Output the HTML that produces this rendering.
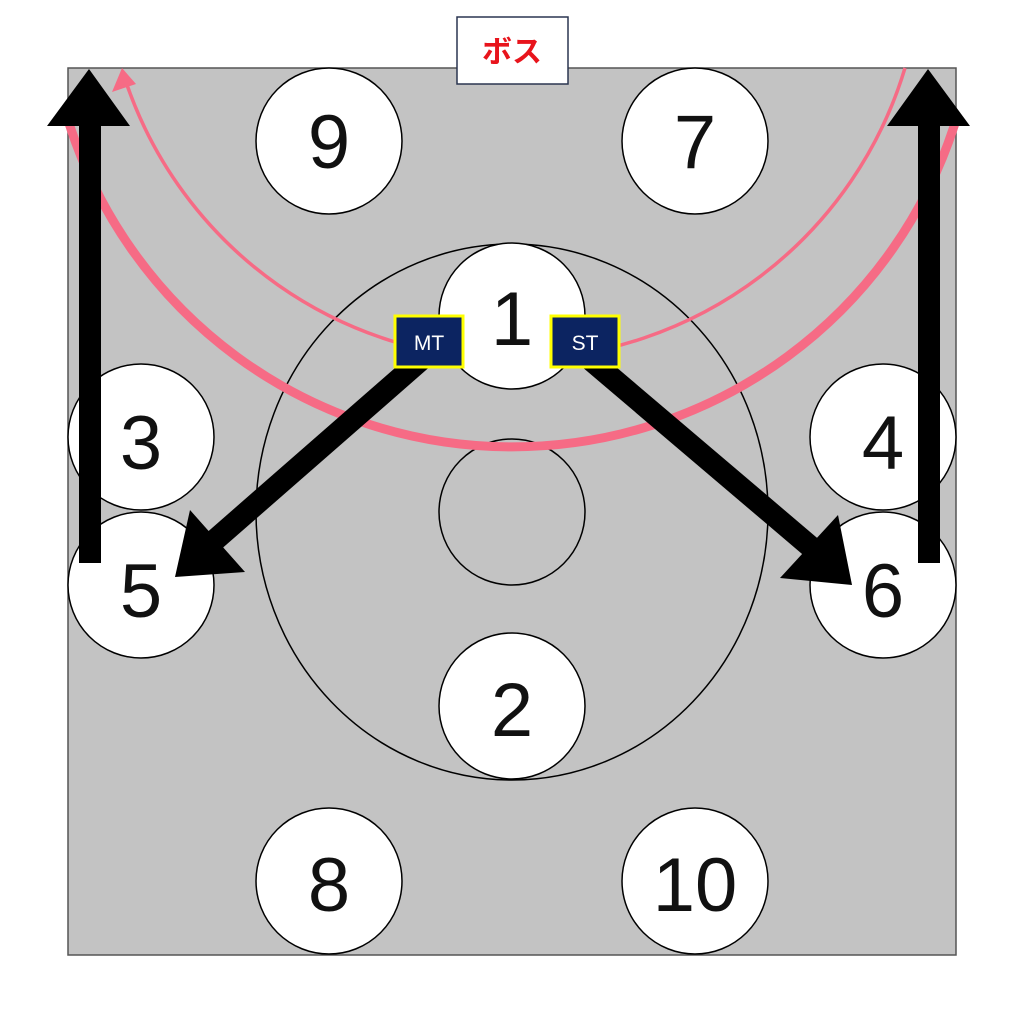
<!DOCTYPE html>
<html><head><meta charset="utf-8"><style>
html,body{margin:0;padding:0;background:#fff;}
</style></head><body>
<svg width="1024" height="1024" viewBox="0 0 1024 1024" xmlns="http://www.w3.org/2000/svg">
<rect x="68" y="68" width="888" height="887" fill="#c3c3c3" stroke="#555" stroke-width="1.5"/>
<ellipse cx="512" cy="512" rx="256" ry="268" fill="none" stroke="#000" stroke-width="1.5"/>
<circle cx="512" cy="512" r="73" fill="none" stroke="#000" stroke-width="1.5"/>
<path d="M68,120 A465,465 0 0 0 956,120" fill="none" stroke="#f66b85" stroke-width="9"/>
<path d="M126,82 A409,409 0 0 0 905,68" fill="none" stroke="#f66b85" stroke-width="3.5"/>
<polygon points="122,68 112,92 136,84" fill="#f66b85"/>
<g fill="#fff" stroke="#000" stroke-width="1.5">
<circle cx="329" cy="141" r="73"/><circle cx="695" cy="141" r="73"/>
<circle cx="512" cy="316" r="73"/>
<circle cx="141" cy="437" r="73"/><circle cx="883" cy="437" r="73"/>
<circle cx="141" cy="585" r="73"/><circle cx="883" cy="585" r="73"/>
<circle cx="512" cy="706" r="73"/>
<circle cx="329" cy="881" r="73"/><circle cx="695" cy="881" r="73"/>
</g>
<g font-family="Liberation Sans, sans-serif" font-size="76" fill="#111" text-anchor="middle">
<text x="329" y="168">9</text><text x="695" y="168">7</text>
<text x="512" y="345">1</text>
<text x="141" y="469">3</text><text x="883" y="469">4</text>
<text x="141" y="617">5</text><text x="883" y="617">6</text>
<text x="512" y="736">2</text>
<text x="329" y="911">8</text><text x="695" y="911">10</text>
</g>
<rect x="79" y="120" width="22" height="443" fill="#000"/>
<polygon points="89,69 47,126 130,126" fill="#000"/>
<rect x="918" y="120" width="22" height="443" fill="#000"/>
<polygon points="928,69 887,126 970,126" fill="#000"/>
<line x1="430" y1="352" x2="215" y2="540" stroke="#000" stroke-width="22"/>
<polygon points="175,577 190,510 245,572" fill="#000"/>
<line x1="585" y1="355" x2="812" y2="548" stroke="#000" stroke-width="22"/>
<polygon points="852,585 780,578 838,515" fill="#000"/>
<rect x="395" y="316" width="68" height="51" fill="#0c2461" stroke="#ffff00" stroke-width="3"/>
<rect x="551" y="316" width="68" height="51" fill="#0c2461" stroke="#ffff00" stroke-width="3"/>
<g font-family="Liberation Sans, sans-serif" font-size="21" fill="#fff" text-anchor="middle">
<text x="429" y="350">MT</text><text x="585" y="350">ST</text>
</g>
<rect x="457" y="17" width="111" height="67" fill="#fff" stroke="#2a3550" stroke-width="1.5"/>
<text x="512" y="62" font-family="Liberation Sans, 'Noto Sans CJK JP', sans-serif" font-size="30" font-weight="bold" fill="#e8141c" text-anchor="middle">ボス</text>
</svg>
</body></html>
